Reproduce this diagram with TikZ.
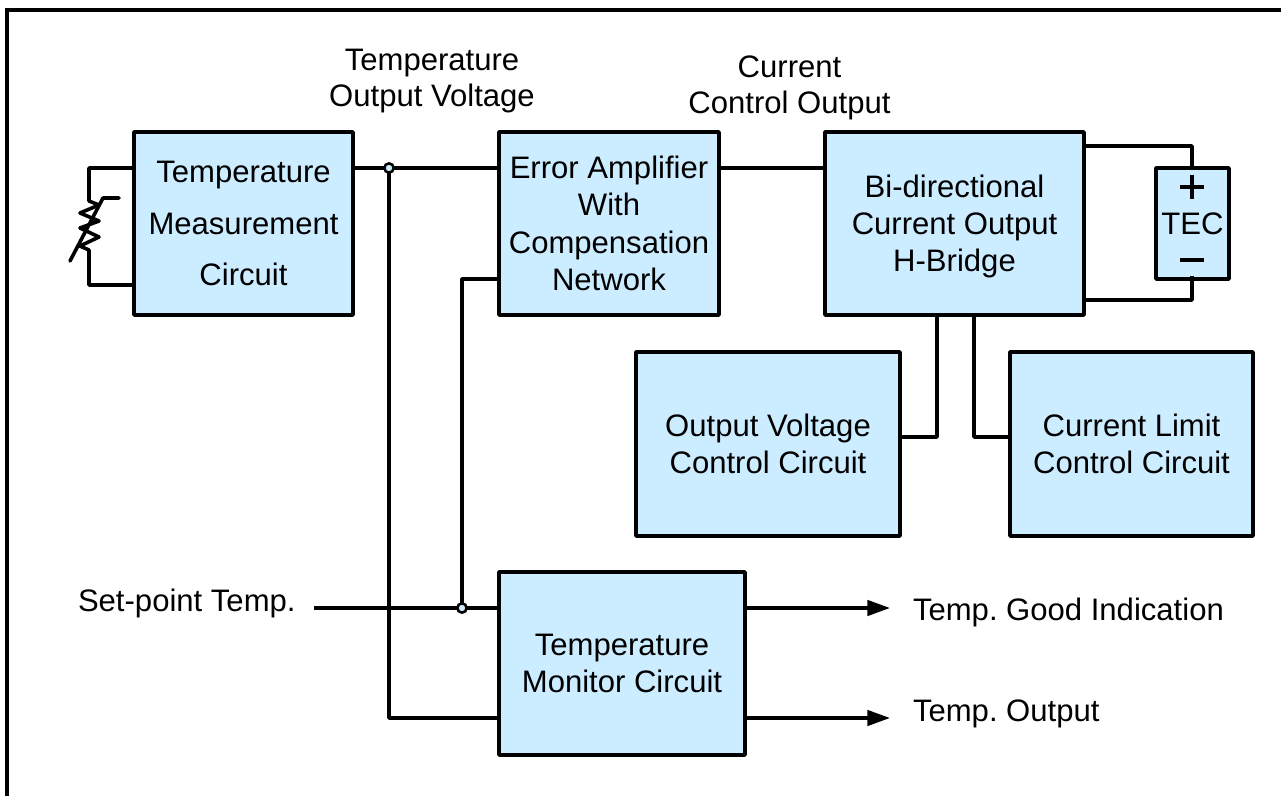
\documentclass[tikz,border=0pt]{standalone}
\usepackage{fontspec}
\setmainfont{Liberation Sans}
\usetikzlibrary{arrows.meta}
\definecolor{boxblue}{RGB}{204,236,255}
\tikzset{
  blk/.style={draw=black,fill=boxblue,line width=2.7pt,inner sep=0pt,outer sep=0pt,align=center,line join=round,
    font=\fontsize{23.3}{28}\selectfont},
  lbl/.style={inner sep=0pt,outer sep=0pt,align=center,font=\fontsize{23.3}{27.5}\selectfont},
  wire/.style={draw=black,line width=2.7pt,line join=round},
  thin wire/.style={draw=black,line width=2.3pt,line join=round},
  arrowwire/.style={wire,-{Triangle[length=17pt,width=11.5pt]}},
  junc/.style={circle,draw=black,fill=boxblue,line width=1.9pt,minimum size=7pt,inner sep=0pt,outer sep=0pt},
  frameline/.style={draw=black,line width=3.4pt,line join=miter}
}
\begin{document}
\frenchspacing
\begin{tikzpicture}[x=0.75pt,y=-0.75pt]
\useasboundingbox (0,0) rectangle (1281,796);
\draw[frameline] (7,796) -- (7,10) -- (1281,10);
% coordinates
\coordinate (c1) at (89,168);
\coordinate (c2) at (89,285);
\coordinate (t1) at (89,201);
\coordinate (t2) at (89,250);
\coordinate (sl1) at (70,261);
\coordinate (sl2) at (103,198);
\coordinate (sl3) at (119,198);
\coordinate (spt) at (314,608);
\coordinate (g1) at (890,608);
\coordinate (g2) at (890,718);
\coordinate (p1) at (1192,146);
\coordinate (p2) at (1192,300);
% boxes
\node[blk,font=\fontsize{23.3}{38.4}\selectfont,minimum width=219*0.75pt,minimum height=183*0.75pt] (meas) at (243.5,223.5) {Temperature\\Measurement\\Circuit};
\node[blk,minimum width=220*0.75pt,minimum height=183*0.75pt] (err) at (609,223.5) {Error Amplifier\\With\\Compensation\\Network};
\node[blk,minimum width=259*0.75pt,minimum height=183*0.75pt] (bridge) at (954.5,223.5) {\rule{0pt}{21.5pt}Bi-directional\\Current Output\\H-Bridge};
\node[blk,minimum width=73*0.75pt,minimum height=111*0.75pt] (tec) at (1192.5,223.5) {TEC};
\node[blk,minimum width=264*0.75pt,minimum height=184*0.75pt] (ovc) at (768,444) {Output Voltage\\Control Circuit};
\node[blk,minimum width=243*0.75pt,minimum height=184*0.75pt] (clc) at (1131.5,444) {Current Limit\\Control Circuit};
\node[blk,minimum width=246*0.75pt,minimum height=183*0.75pt] (mon) at (622,663.5) {Temperature\\Monitor Circuit};
% labels
\node[lbl] (l1) at (432,81) {Temperature\\Output Voltage};
\node[lbl] (l2) at (789.5,88) {Current\\Control Output};
\node[lbl,anchor=west] (l3) at (78,603) {Set-point Temp.};
\node[lbl,anchor=west] (l4) at (913,612) {Temp. Good Indication};
\node[lbl,anchor=west] (l5) at (913,714) {Temp. Output};
% junctions' coordinates
\coordinate (jm) at (389,168);
\coordinate (js) at (462,608);
% wires
\draw[wire] (meas.west |- c1) -- (c1) -- (t1)
  -- ++(10,4) -- ++(-19,8) -- ++(19,8) -- ++(-19,7) -- ++(19,9) -- ++(-19,9) -- (t2) -- (c2) -- (meas.west |- c2);
\draw[wire,line cap=round] (sl1) -- (sl2) -- (sl3);
\draw[wire] (meas.east |- jm) -- (err.west |- jm);
\draw[wire] (jm) -- (jm |- 0,718) -- (mon.west |- 0,718);
\draw[wire] (err.east |- jm) -- (bridge.west |- jm);
\draw[wire] (spt) -- (mon.west |- spt);
\draw[wire] (js) -- (js |- 0,279) -- (err.west |- 0,279);
\draw[arrowwire] (mon.east |- g1) -- (g1);
\draw[arrowwire] (mon.east |- g2) -- (g2);
\draw[wire] (bridge.east |- p1) -- (p1) -- (tec.north -| p1);
\draw[wire] (bridge.east |- p2) -- (p2) -- (tec.south -| p2);
\draw[wire] (bridge.south -| 937,0) -- (937,437) -- (ovc.east |- 0,437);
\draw[wire] (bridge.south -| 974,0) -- (974,437) -- (clc.west |- 0,437);
\node[junc] (j1) at (jm) {};
\node[junc] (j2) at (js) {};
% TEC polarity
\draw[thin wire] (1180,187) -- (1204,187) (1192,175) -- (1192,199);
\draw[thin wire] (1180,260) -- (1204,260);
\draw[wire] (tec.south -| p2) -- ++(0,-3);
\end{tikzpicture}
\end{document}
